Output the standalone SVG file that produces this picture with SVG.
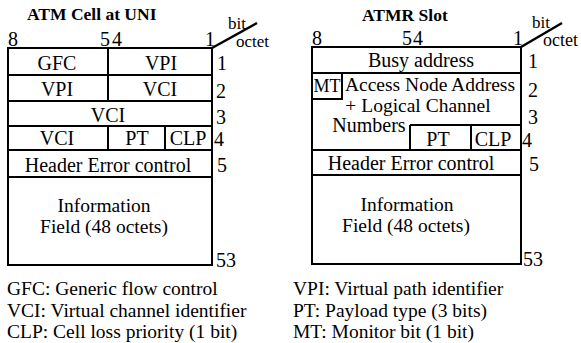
<svg xmlns="http://www.w3.org/2000/svg" width="581" height="343" viewBox="0 0 581 343">
<style>
text{font-family:"Liberation Serif","Times New Roman",serif;font-size:20px;fill:#000}
.t{font-weight:bold;font-size:17.5px}
.c{text-anchor:middle}
.s{font-size:18px}
.b{font-size:17px}
.lg{font-size:19.5px}
.box{fill:#fff;stroke:#000;stroke-width:2}
.ln{stroke:#000;stroke-width:2;fill:none}
.dg{stroke:#000;stroke-width:2.5;fill:none}
</style>
<rect width="581" height="343" fill="#fff"/>

<g id="atm-cell-uni">
  <text class="t" x="27" y="20">ATM Cell at UNI</text>
  <g id="left-bits">
    <text x="8" y="46">8</text>
    <text x="100" y="46">5</text>
    <text x="112" y="46">4</text>
    <text x="205" y="46">1</text>
    <text class="b" x="228" y="29">bit</text>
    <text class="b" x="236" y="47">octet</text>
  </g>
  <rect class="box" x="8" y="48" width="204" height="217"/>
  <g id="left-row1">
    <line class="ln" x1="108" y1="48" x2="108" y2="75"/>
    <text class="c" x="57" y="70">GFC</text>
    <text class="c" x="161" y="70">VPI</text>
    <text x="217" y="70">1</text>
  </g>
  <g id="left-row2">
    <line class="ln" x1="8" y1="75" x2="212" y2="75"/>
    <line class="ln" x1="108" y1="75" x2="108" y2="101"/>
    <text class="c" x="57" y="96">VPI</text>
    <text class="c" x="160" y="96">VCI</text>
    <text x="216" y="98">2</text>
  </g>
  <g id="left-row3">
    <line class="ln" x1="8" y1="101" x2="212" y2="101"/>
    <text class="c" x="108" y="122">VCI</text>
    <text x="216" y="124">3</text>
  </g>
  <g id="left-row4">
    <line class="ln" x1="8" y1="126" x2="212" y2="126"/>
    <line class="ln" x1="108" y1="126" x2="108" y2="150"/>
    <line class="ln" x1="165" y1="126" x2="165" y2="150"/>
    <text class="c" x="57" y="145">VCI</text>
    <text class="c" x="137" y="145">PT</text>
    <text class="c" x="188" y="145">CLP</text>
    <text x="214" y="146">4</text>
  </g>
  <g id="left-row5">
    <line class="ln" x1="8" y1="150" x2="212" y2="150"/>
    <text class="c" x="108" y="172">Header Error control</text>
    <text x="217" y="172">5</text>
  </g>
  <g id="left-info">
    <line class="ln" x1="8" y1="177" x2="212" y2="177"/>
    <text class="c lg" x="104" y="212">Information</text>
    <text class="c lg" x="104" y="233">Field (48 octets)</text>
    <text x="216" y="267">53</text>
  </g>
</g>

<g id="atmr-slot">
  <text class="t" x="362" y="21">ATMR Slot</text>
  <g id="right-bits">
    <text x="312" y="45">8</text>
    <text x="402" y="45">5</text>
    <text x="413" y="45">4</text>
    <text x="513" y="45">1</text>
    <text class="b" x="532" y="28">bit</text>
    <text class="s" x="543" y="46">octet</text>
  </g>
  <rect class="box" x="312" y="47" width="209" height="217"/>
  <g id="right-row1">
    <text class="c" x="421" y="67">Busy address</text>
    <text x="528" y="68">1</text>
  </g>
  <g id="right-rows2-4">
    <line class="ln" x1="312" y1="73" x2="521" y2="73"/>
    <rect class="box" x="312" y="73" width="30" height="26"/>
    <text class="c s" x="327" y="92">MT</text>
    <text class="c lg" x="430" y="91">Access Node Address</text>
    <text class="c lg" x="418" y="112">+ Logical Channel</text>
    <text class="c" x="369" y="132">Numbers</text>
    <line class="ln" x1="410" y1="125" x2="521" y2="125"/>
    <line class="ln" x1="410" y1="125" x2="410" y2="150"/>
    <line class="ln" x1="471" y1="125" x2="471" y2="150"/>
    <text class="c" x="438" y="146">PT</text>
    <text class="c" x="493" y="146">CLP</text>
    <text x="528" y="97">2</text>
    <text x="528" y="124">3</text>
    <text x="522" y="147">4</text>
  </g>
  <g id="right-row5">
    <line class="ln" x1="312" y1="150" x2="521" y2="150"/>
    <text class="c" x="411" y="170">Header Error control</text>
    <text x="529" y="171">5</text>
  </g>
  <g id="right-info">
    <line class="ln" x1="312" y1="175" x2="521" y2="175"/>
    <text class="c lg" x="407" y="211">Information</text>
    <text class="c lg" x="406" y="232">Field (48 octets)</text>
    <text x="523" y="266">53</text>
  </g>
</g>

<g id="legend-left">
  <text class="lg" x="7" y="295">GFC: Generic flow control</text>
  <text class="lg" x="7" y="317">VCI: Virtual channel identifier</text>
  <text class="lg" x="7" y="338">CLP: Cell loss priority (1 bit)</text>
</g>
<g id="legend-right">
  <text class="lg" x="293" y="295">VPI: Virtual path identifier</text>
  <text class="lg" x="293" y="317">PT: Payload type (3 bits)</text>
  <text class="lg" x="293" y="338">MT: Monitor bit (1 bit)</text>
</g>

<g id="connectors">
  <line class="dg" x1="212" y1="48" x2="257" y2="23"/>
  <line class="dg" x1="521" y1="47" x2="562" y2="23"/>
</g>
</svg>
